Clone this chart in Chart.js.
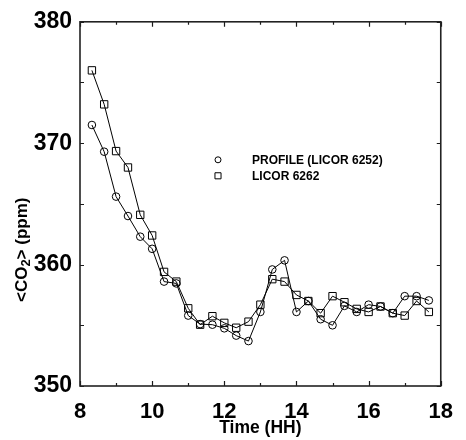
<!DOCTYPE html>
<html>
<head>
<meta charset="utf-8">
<style>
  html, body { margin: 0; padding: 0; background: #ffffff; }
  #wrap { width: 466px; height: 440px; }
</style>
<script src="https://cdn.jsdelivr.net/npm/chart.js@4.4.1/dist/chart.umd.min.js"></script>
</head>
<body>
<div id="wrap"><canvas id="c" width="466" height="440"></canvas></div>
<script>
// Sampling times (decimal hours, every 20 minutes)
const hours = [8.33, 8.67, 9.00, 9.33, 9.67, 10.00, 10.33, 10.67, 11.00, 11.33,
               11.67, 12.00, 12.33, 12.67, 13.00, 13.33, 13.67, 14.00, 14.33, 14.67,
               15.00, 15.33, 15.67, 16.00, 16.33, 16.67, 17.00, 17.33, 17.67];

// Mean CO2 (ppm) from the profile system (LICOR 6252)
const profileCO2 = [371.5, 369.3, 365.6, 364.0, 362.3, 361.3, 358.6, 358.45, 355.8, 355.1,
                    355.05, 354.75, 354.15, 353.7, 356.1, 359.6, 360.35, 356.1, 357.0, 355.5,
                    355.0, 356.6, 356.1, 356.7, 356.55, 356.0, 357.4, 357.4, 357.05];

// Mean CO2 (ppm) from the LICOR 6262
const licorCO2 = [376.0, 373.2, 369.35, 368.0, 364.1, 362.4, 359.4, 358.6, 356.4, 355.05,
                  355.75, 355.2, 354.8, 355.3, 356.7, 358.8, 358.6, 357.5, 357.0, 356.0,
                  357.4, 356.9, 356.35, 356.1, 356.55, 356.0, 355.8, 357.0, 356.1];

const seriesNames = ['PROFILE (LICOR 6252)', 'LICOR 6262'];
const xRange = [8, 18];      // labelled every 2 h, ticked every hour
const yRange = [350, 380];   // labelled every 10 ppm, ticked every 5 ppm
const xTitle = 'Time (HH)';
const yTitleParts = ['<CO', '2', '> (ppm)'];

const FONT = '"Liberation Sans", Arial, Helvetica, sans-serif';

function toPoints(xs, ys) {
  return xs.map((x, i) => ({ x: x, y: ys[i] }));
}

// Box around the plot with inward tick marks on all four sides
const framePlugin = {
  id: 'frame',
  afterDatasetsDraw(chart) {
    const { ctx, chartArea: a, scales } = chart;
    ctx.save();
    ctx.strokeStyle = '#1a1a1a';
    ctx.lineWidth = 1.2;
    scales.x.ticks.forEach(t => {
      const px = Math.round(scales.x.getPixelForValue(t.value)) + 0.5;
      const len = (t.value % 2 === 0) ? 5 : 3;
      ctx.beginPath();
      ctx.moveTo(px, a.bottom); ctx.lineTo(px, a.bottom - len);
      ctx.moveTo(px, a.top); ctx.lineTo(px, a.top + len);
      ctx.stroke();
    });
    scales.y.ticks.forEach(t => {
      const py = Math.round(scales.y.getPixelForValue(t.value)) + 0.5;
      ctx.beginPath();
      ctx.moveTo(a.left, py); ctx.lineTo(a.left + 4, py);
      ctx.moveTo(a.right, py); ctx.lineTo(a.right - 4, py);
      ctx.stroke();
    });
    ctx.lineWidth = 1.6;
    ctx.strokeStyle = '#222222';
    ctx.strokeRect(a.left, a.top, a.right - a.left, a.bottom - a.top);
    ctx.restore();
  }
};

// Rotated y-axis title with a subscript digit
const yTitlePlugin = {
  id: 'yTitle',
  afterDraw(chart) {
    const { ctx, chartArea: a } = chart;
    const big = 'bold 17px ' + FONT;
    const small = 'bold 13px ' + FONT;
    ctx.save();
    ctx.fillStyle = '#000';
    ctx.font = big;
    const w0 = ctx.measureText(yTitleParts[0]).width;
    const w2 = ctx.measureText(yTitleParts[2]).width;
    ctx.font = small;
    const w1 = ctx.measureText(yTitleParts[1]).width;
    const total = w0 + w1 + w2;
    const cy = a.top + (a.bottom - a.top) * 0.626;
    ctx.translate(27, cy);
    ctx.rotate(-Math.PI / 2);
    ctx.textBaseline = 'alphabetic';
    ctx.textAlign = 'left';
    let x = -total / 2;
    ctx.font = big;
    ctx.fillText(yTitleParts[0], x, 0);
    x += w0;
    ctx.font = small;
    ctx.fillText(yTitleParts[1], x, 3);
    x += w1;
    ctx.font = big;
    ctx.fillText(yTitleParts[2], x, 0);
    ctx.restore();
  }
};

// Legend inside the plot: marker symbol, then series name
const legendPlugin = {
  id: 'insideLegend',
  afterDraw(chart) {
    const { ctx, chartArea: a } = chart;
    const markerX = a.left + 138;
    const textX = a.left + 172;
    const rows = [a.top + 138, a.top + 154];
    ctx.save();
    ctx.font = 'bold 12px ' + FONT;
    ctx.fillStyle = '#000';
    ctx.textBaseline = 'middle';
    ctx.textAlign = 'left';
    chart.data.datasets.forEach((ds, i) => {
      ctx.strokeStyle = '#000';
      ctx.fillStyle = 'rgba(0,0,0,0)';
      ctx.lineWidth = 1;
      Chart.helpers.drawPoint(ctx, {
        pointStyle: ds.pointStyle,
        radius: ds.pointStyle === 'rect' ? 4.3 : 3.0,
        borderWidth: 1
      }, markerX, rows[i]);
      ctx.fillStyle = '#000';
      ctx.fillText(seriesNames[i], textX, rows[i] + 0.5);
    });
    ctx.restore();
  }
};

new Chart(document.getElementById('c'), {
  type: 'line',
  data: {
    datasets: [
      {
        label: seriesNames[0],
        data: toPoints(hours, profileCO2),
        borderColor: '#000',
        borderWidth: 1,
        pointStyle: 'circle',
        pointRadius: 3.8,
        pointBorderWidth: 1,
        pointBorderColor: '#000',
        pointBackgroundColor: 'rgba(0,0,0,0)',
        tension: 0,
        fill: false
      },
      {
        label: seriesNames[1],
        data: toPoints(hours, licorCO2),
        borderColor: '#000',
        borderWidth: 1,
        pointStyle: 'rect',
        pointRadius: 5.2,
        pointBorderWidth: 1,
        pointBorderColor: '#000',
        pointBackgroundColor: 'rgba(0,0,0,0)',
        tension: 0,
        fill: false
      }
    ]
  },
  options: {
    responsive: false,
    animation: false,
    devicePixelRatio: 1,
    layout: { padding: { top: 16, right: 13, left: 0, bottom: 0 } },
    plugins: {
      legend: { display: false },
      tooltip: { enabled: false }
    },
    scales: {
      x: {
        type: 'linear',
        min: xRange[0],
        max: xRange[1],
        grid: { display: false, drawTicks: false },
        border: { display: false },
        ticks: {
          stepSize: 1,
          autoSkip: false,
          maxRotation: 0,
          padding: 13,
          color: '#000',
          font: { family: FONT, size: 22, weight: 'bold' },
          callback: v => (v % 2 === 0 ? String(v) : '')
        },
        title: {
          display: true,
          text: xTitle,
          color: '#000',
          font: { family: FONT, size: 17.5, weight: 'bold' },
          padding: { top: 0, bottom: 1 }
        },
        afterFit: s => { s.height = 54; }
      },
      y: {
        type: 'linear',
        min: yRange[0],
        max: yRange[1],
        grid: { display: false, drawTicks: false },
        border: { display: false },
        ticks: {
          stepSize: 5,
          autoSkip: false,
          padding: 8,
          color: '#000',
          font: { family: FONT, size: 23, weight: 'bold' },
          callback: v => (v % 10 === 0 ? String(v) : '')
        },
        afterFit: s => { s.width = 80; }
      }
    }
  },
  plugins: [framePlugin, yTitlePlugin, legendPlugin]
});
</script>
</body>
</html>
